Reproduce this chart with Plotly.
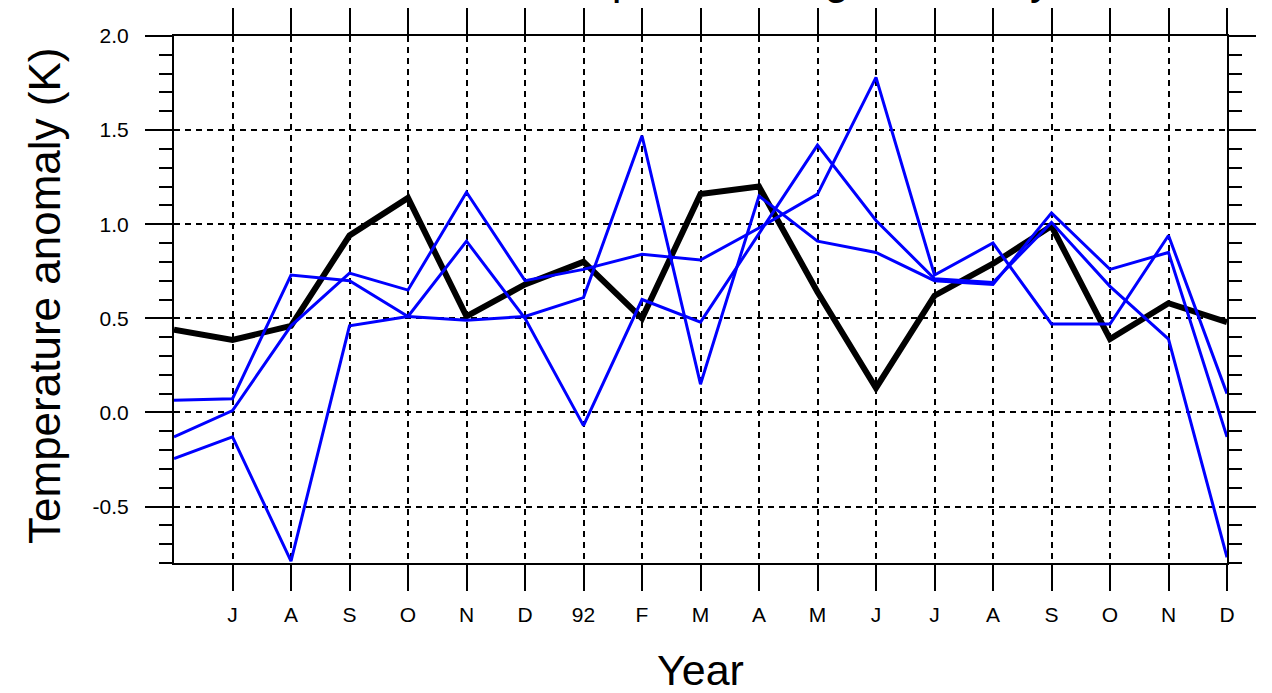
import plotly.graph_objects as go

# Monthly samples, June 1991 through December 1992
months = ["1991-06", "1991-07", "1991-08", "1991-09", "1991-10", "1991-11",
          "1991-12", "1992-01", "1992-02", "1992-03", "1992-04", "1992-05",
          "1992-06", "1992-07", "1992-08", "1992-09", "1992-10", "1992-11",
          "1992-12"]
tick_text = ["J", "A", "S", "O", "N", "D", "92", "F", "M", "A", "M", "J",
             "J", "A", "S", "O", "N", "D"]

# Observed anomaly (K)
observed = [0.44, 0.385, 0.46, 0.94, 1.14, 0.51, 0.68, 0.80, 0.50, 1.16,
            1.20, 0.64, 0.13, 0.62, 0.79, 0.99, 0.39, 0.58, 0.48]
# Ensemble members (K)
member1 = [0.065, 0.073, 0.73, 0.70, 0.51, 0.91, 0.50, -0.07, 0.60, 0.48,
           0.95, 1.42, 1.02, 0.71, 0.69, 1.01, 0.67, 0.39, -0.77]
member2 = [-0.13, 0.01, 0.46, 0.74, 0.65, 1.17, 0.70, 0.76, 0.84, 0.81,
           0.98, 1.16, 1.78, 0.73, 0.90, 0.47, 0.47, 0.94, 0.10]
member3 = [-0.245, -0.13, -0.79, 0.46, 0.51, 0.49, 0.51, 0.61, 1.47, 0.15,
           1.15, 0.91, 0.85, 0.70, 0.68, 1.06, 0.76, 0.85, -0.13]

y_ticks = [2.0, 1.5, 1.0, 0.5, 0.0, -0.5]
y_tick_text = ["2.0", "1.5", "1.0", "0.5", "0.0", "-0.5"]

x = list(range(len(months)))
FONT = "Liberation Sans"

fig = go.Figure()
fig.add_trace(go.Scatter(x=x, y=observed, mode="lines",
                         line=dict(color="black", width=6),
                         showlegend=False, hoverinfo="skip"))
for member in (member1, member2, member3):
    fig.add_trace(go.Scatter(x=x, y=member, mode="lines",
                             line=dict(color="#0000ff", width=3),
                             showlegend=False, hoverinfo="skip"))

grid = dict(showgrid=True, gridcolor="black", gridwidth=1.5,
            griddash="6px,5px", zeroline=False, automargin=False,
            showline=True, linecolor="black", linewidth=2,
            mirror="allticks", ticks="outside", tickcolor="black",
            tickwidth=1.5,
            tickfont=dict(family=FONT, size=21, color="black"))

fig.update_xaxes(range=[0, len(months) - 1],
                 tickmode="array", tickvals=x[1:], ticktext=tick_text,
                 ticklen=26, ticklabelstandoff=6, **grid)
fig.update_yaxes(range=[-0.8, 2.0],
                 tickmode="array", tickvals=y_ticks, ticktext=y_tick_text,
                 ticklen=27, ticklabelstandoff=12,
                 minor=dict(tickmode="linear", tick0=0, dtick=0.1,
                            ticks="outside", ticklen=13, tickwidth=1.5,
                            tickcolor="black", showgrid=False),
                 **grid)

fig.update_layout(
    width=1272, height=693,
    margin=dict(l=174, r=45, t=36, b=130, pad=0),
    plot_bgcolor="white", paper_bgcolor="white",
    font=dict(family=FONT, color="black"),
    annotations=[
        dict(text="Pinatubo, Tropical average anomaly", xref="paper",
             yref="paper", x=0.5, y=1.058, xanchor="center",
             yanchor="bottom", showarrow=False,
             font=dict(family=FONT, size=44, color="black")),
        dict(text="Year", xref="paper", yref="paper", x=0.5, y=-0.203,
             xanchor="center", yanchor="middle", showarrow=False,
             font=dict(family=FONT, size=43, color="black")),
        dict(text="Temperature anomaly (K)", xref="paper", yref="paper",
             x=-0.1235, y=0.5066, xanchor="center", yanchor="middle",
             textangle=-90, showarrow=False,
             font=dict(family=FONT, size=44, color="black")),
    ],
)

fig.write_html("out.html")
